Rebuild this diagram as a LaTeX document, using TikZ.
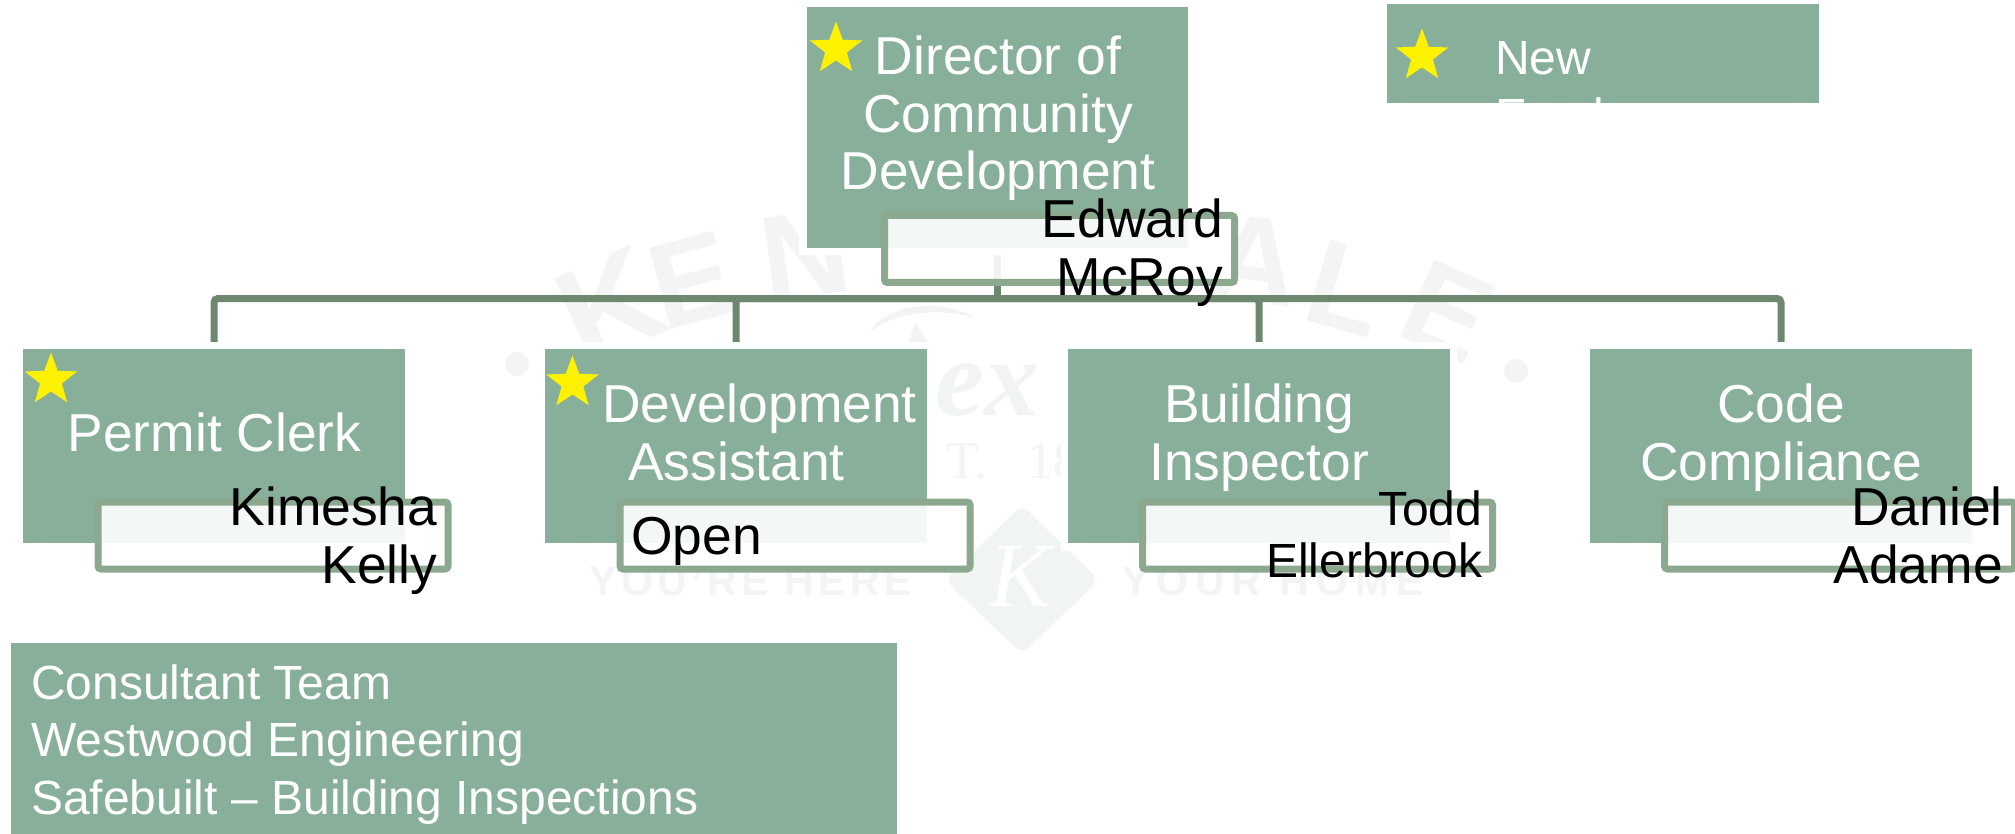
\documentclass[tikz,border=0pt]{standalone}
\usepackage{fontspec}
\setmainfont{Liberation Sans}
\newfontfamily\wmserif{Liberation Serif}
\usetikzlibrary{shapes.geometric}
\pgfdeclarelayer{under}
\pgfsetlayers{under,main}
\definecolor{boxgreen}{HTML}{87AF9A}
\definecolor{namegreen}{HTML}{8CA98F}
\definecolor{linegreen}{HTML}{6E8870}
\definecolor{wmgrey}{HTML}{F3F4F4}
\definecolor{wmgreen}{HTML}{F0F5F2}
\tikzset{
  titlebox/.style={rectangle,fill=boxgreen,inner sep=0pt,outer sep=0pt,
    preaction={draw=white,line width=15pt}},
  upperbox/.style={titlebox,minimum width=381.5pt,minimum height=194pt},
  namebox/.style={rectangle,draw=namegreen,line width=7pt,fill=white,fill opacity=.9,
    rounded corners=3pt,inner sep=0pt,outer sep=0pt,minimum width=350pt,minimum height=67pt},
  titletext/.style={text=white,inner sep=0pt,anchor=base,font=\fontsize{53.4}{57.7}\selectfont},
  nametext/.style={text=black,inner sep=0pt,anchor=base east,font=\fontsize{53.4}{57}\selectfont},
  smallname/.style={nametext,font=\fontsize{48}{52}\selectfont},
  sidetext/.style={text=white,inner sep=0pt,anchor=base west,font=\fontsize{48}{57.7}\selectfont},
  starmark/.style={star,star points=5,star point ratio=2.4,fill=yellow,draw=none,inner sep=0pt,minimum size=55pt},
  wmletter/.style={text=wmgrey,inner sep=0pt,font=\fontsize{135}{135}\selectfont\bfseries},
  wmletterb/.style={text=wmgrey,inner sep=0pt,font=\fontsize{122}{122}\selectfont\bfseries},
  wmsmall/.style={text=wmgrey,inner sep=0pt,anchor=base west},
  connector/.style={draw=linegreen,line width=7pt,rounded corners=4pt}
}
\begin{document}
\begin{tikzpicture}[x=1pt,y=-1pt]
\useasboundingbox (0,0) rectangle (2015,834);

% boxes
\node[titlebox,minimum width=381.5pt,minimum height=241pt] (root) at (997.5,127.5) {};
\node[upperbox] (b1) at (214,446) {};
\node[upperbox] (b2) at (736,446) {};
\node[upperbox] (b3) at (1259,446) {};
\node[upperbox] (b4) at (1781,446) {};
\node[titlebox,minimum width=431.5pt,minimum height=99pt] (legend) at (1603.2,53.5) {};
\node[titlebox,minimum width=886pt,minimum height=191pt] (cons) at (454,738.5) {};

% watermark and connectors lie under the boxes
\begin{pgfonlayer}{under}
\fill[white] (0,0) rectangle (2015,834);
\node[wmletter,rotate=24] (w1) at (610,305) {K};
\node[wmletterb,rotate=15] (w2) at (692,280) {E};
\node[wmletterb,rotate=8] (w3) at (805,255) {N};
\node[wmletterb,rotate=-8] (w4) at (1255,260) {A};
\node[wmletterb,rotate=-16] (w5) at (1347,288) {L};
\node[wmletterb,rotate=-24] (w6) at (1448,312) {E};
\fill[wmgrey] (517,364) circle (12pt);
\fill[wmgrey] (1516,371) circle (12pt);
\fill[wmgreen] (870,332) .. controls (880,310) and (930,295) .. (975,317) .. controls (935,308) and (895,312) .. (870,332) -- cycle;
\fill[wmgreen] (908,345) -- (915,322) -- (930,345) -- cycle;
\node[inner sep=0pt,anchor=base west,text=wmgreen,font=\fontsize{110}{110}\selectfont\wmserif\bfseries\itshape] (wex) at (935,415) {ex};
\node[inner sep=0pt,anchor=base west,text=wmgrey,font=\fontsize{53}{53}\selectfont\wmserif] (west) at (946,478) {T. \hspace{26pt}18};
\node[wmsmall,font=\fontsize{41}{41}\selectfont\bfseries\addfontfeature{LetterSpace=11}] (wyou) at (589,595) {YOU'RE HERE};
\node[wmsmall,font=\fontsize{41}{41}\selectfont\bfseries\addfontfeature{LetterSpace=17}] (wyour) at (1122,595) {YOUR HOME};
\fill[wmgreen,rounded corners=10pt] (1022,505) -- (1099,580) -- (1022,654) -- (945,580) -- cycle;
\node[inner sep=0pt,text=white,font=\fontsize{92}{92}\selectfont\wmserif\itshape] (wk) at (1020,576) {K};
\coordinate (bus) at (997.5,298.5);
\draw[connector] (root.south) -- (bus);
\draw[connector] (b1.north) |- (bus);
\draw[connector] (b2.north) |- (bus);
\draw[connector] (b3.north) |- (bus);
\draw[connector] (b4.north) |- (bus);
\end{pgfonlayer}

% name boxes
\node[namebox] (n0) at (1059.5,249) {};
\node[namebox] (n1) at (273,535.5) {};
\node[namebox] (n2) at (795,535.5) {};
\node[namebox] (n3) at (1317.5,535.5) {};
\node[namebox] (n4) at (1839.5,535.5) {};

% titles
\node[titletext] (t0) at (998,75) {Director of};
\node[titletext] (t0b) at (998,133) {Community};
\node[titletext] (t0c) at (998,190) {Development};
\node[titletext] (t1) at (214.5,451) {Permit Clerk};
\node[titletext] (t2) at (759.5,422) {Development};
\node[titletext] (t2b) at (736.5,480) {Assistant};
\node[titletext] (t3) at (1259,422) {Building};
\node[titletext] (t3b) at (1259,480) {Inspector};
\node[titletext] (t4) at (1781,422) {Code};
\node[titletext] (t4b) at (1781,480) {Compliance};

% names
\node[nametext] (m0) at (1223,238) {Edward};
\node[nametext] (m0b) at (1223,295) {McRoy};
\node[nametext] (m1) at (437.5,525) {Kimesha};
\node[nametext] (m1b) at (437.5,583) {Kelly};
\node[nametext,anchor=base west] (m2) at (631,554) {Open};
\node[smallname] (m3) at (1482.5,525) {Todd};
\node[smallname] (m3b) at (1482.5,577) {Ellerbrook};
\node[nametext] (m4) at (2003,525) {Daniel};
\node[nametext] (m4b) at (2003,583) {Adame};

% side texts
\begin{scope}
\clip (1387.5,4) rectangle (1819,103);
\node[sidetext] (l1) at (1495,75) {New};
\node[sidetext] (l2) at (1495,133) {Employee};
\end{scope}
\node[sidetext] (c1) at (31,699) {Consultant Team};
\node[sidetext] (c2) at (31,756) {Westwood Engineering};
\node[sidetext] (c3) at (31,814) {Safebuilt -- Building Inspections};

% stars
\node[starmark] (s0) at (836,49) {};
\node[starmark] (s1) at (51,380) {};
\node[starmark] (s2) at (572.5,383) {};
\node[starmark] (s3) at (1422,56) {};
\end{tikzpicture}
\end{document}
